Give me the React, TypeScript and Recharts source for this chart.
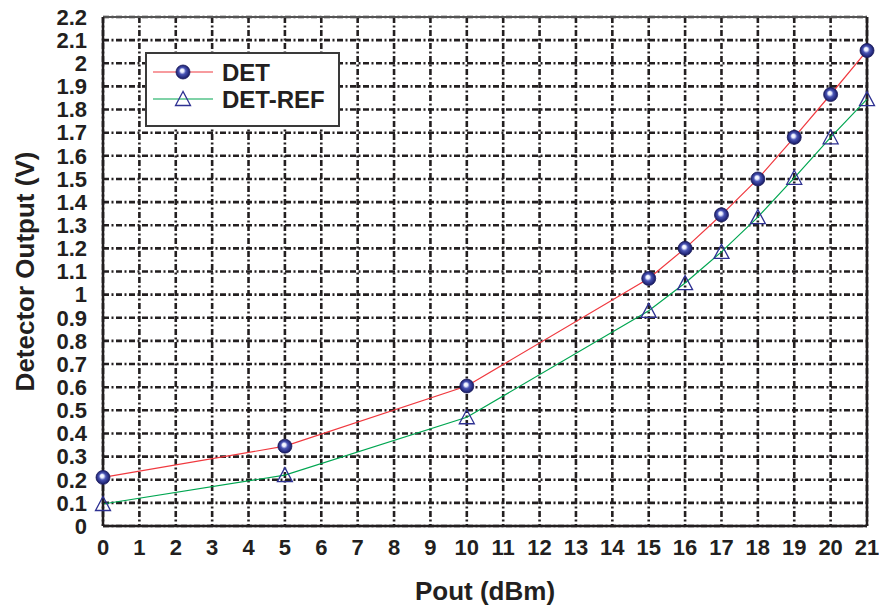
import React from 'react';
import { LineChart, Line, XAxis, YAxis, CartesianGrid, ReferenceLine, Legend } from 'recharts';

const pout = [0, 5, 10, 15, 16, 17, 18, 19, 20, 21];
const det = [0.21, 0.345, 0.605, 1.07, 1.2, 1.345, 1.5, 1.68, 1.865, 2.055];
const detRef = [0.095, 0.22, 0.47, 0.93, 1.05, 1.185, 1.335, 1.505, 1.68, 1.845];
const xTicks = [0, 1, 2, 3, 4, 5, 6, 7, 8, 9, 10, 11, 12, 13, 14, 15, 16, 17, 18, 19, 20, 21];
const yTicks = [0, 0.1, 0.2, 0.3, 0.4, 0.5, 0.6, 0.7, 0.8, 0.9, 1, 1.1, 1.2, 1.3, 1.4, 1.5, 1.6, 1.7, 1.8, 1.9, 2, 2.1, 2.2];
const seriesNames = ['DET', 'DET-REF'];

const data = pout.map((x, i) => ({ x, det: det[i], detRef: detRef[i] }));

const FONT = '"Liberation Sans", Arial, sans-serif';
const INK = '#231f20';
const RED = '#f0393f';
const GREEN = '#00a651';
const BLUE = '#2e3192';

const Sphere = ({ cx, cy }: any) => {
  if (cx == null || cy == null) return null;
  return <circle cx={cx} cy={cy} r={7} fill="url(#sphereGrad)" stroke="#1b1a5c" strokeWidth={0.8} />;
};

const Tri = ({ cx, cy }: any) => {
  if (cx == null || cy == null) return null;
  const pts = `${cx},${cy - 7.5} ${cx - 7.5},${cy + 6.5} ${cx + 7.5},${cy + 6.5}`;
  return <polygon points={pts} fill="none" stroke={BLUE} strokeWidth={1.3} />;
};

const LegendBox = () => (
  <div
    style={{
      width: 195,
      height: 75,
      boxSizing: 'border-box',
      border: `2.5px solid #3a3a3a`,
      background: '#fff',
    }}
  >
    <svg width={191} height={71} style={{ display: 'block' }}>
      <line x1={6} x2={66} y1={18} y2={18} stroke={RED} strokeWidth={1.2} />
      <Sphere cx={36} cy={18} />
      <text x={75} y={18} dominantBaseline="central" fontFamily={FONT} fontWeight="bold" fontSize={24} fill={INK}>
        {seriesNames[0]}
      </text>
      <line x1={6} x2={66} y1={45} y2={45} stroke={GREEN} strokeWidth={1.2} />
      <Tri cx={36} cy={45} />
      <text x={75} y={45} dominantBaseline="central" fontFamily={FONT} fontWeight="bold" fontSize={24} fill={INK}>
        {seriesNames[1]}
      </text>
    </svg>
  </div>
);

const fmt = (v: number) => String(+v.toFixed(1));

export default function App() {
  return (
    <div style={{ position: 'absolute', left: 0, top: 0, width: 879, height: 607, background: '#fff' }}>
      <svg width={0} height={0} style={{ position: 'absolute' }}>
        <defs>
          <radialGradient id="sphereGrad" cx="0.5" cy="0.5" r="0.55" fx="0.42" fy="0.38">
            <stop offset="0%" stopColor="#ffffff" />
            <stop offset="22%" stopColor="#e8ecff" />
            <stop offset="45%" stopColor="#4a55b5" />
            <stop offset="80%" stopColor="#23287a" />
            <stop offset="100%" stopColor="#141650" />
          </radialGradient>
        </defs>
      </svg>
      <LineChart
        width={879}
        height={607}
        data={data}
        margin={{ top: 17, right: 12, bottom: 0, left: 0 }}
      >
        <CartesianGrid
          stroke={INK}
          strokeWidth={2.6}
          strokeDasharray="6 2.5 2 2.5"
          horizontalValues={yTicks}
          verticalValues={xTicks}
        />
        <XAxis
          dataKey="x"
          type="number"
          domain={[0, 21]}
          ticks={xTicks}
          interval={0}
          height={81}
          tickLine={false}
          tickSize={0}
          tickMargin={13}
          axisLine={{ stroke: INK, strokeWidth: 2.5 }}
          tick={{ fontFamily: FONT, fontWeight: 'bold', fontSize: 22, fill: INK }}
          label={{
            value: 'Pout (dBm)',
            position: 'insideBottom',
            offset: 7,
            style: { fontFamily: FONT, fontWeight: 'bold', fontSize: 26, fill: INK },
          }}
        />
        <YAxis
          type="number"
          domain={[0, 2.2]}
          ticks={yTicks}
          interval={0}
          width={103}
          tickLine={false}
          tickSize={0}
          tickMargin={16}
          tickFormatter={fmt}
          axisLine={{ stroke: INK, strokeWidth: 2.5 }}
          tick={{ fontFamily: FONT, fontWeight: 'bold', fontSize: 22, fill: INK }}
          label={{
            content: (props: any) => {
              const vb = props.viewBox || {};
              const cx = (vb.x || 0) + 25;
              const cy = (vb.y || 0) + (vb.height || 0) / 2;
              return (
                <text
                  x={cx}
                  y={cy}
                  transform={`rotate(-90 ${cx} ${cy})`}
                  textAnchor="middle"
                  dominantBaseline="central"
                  fontFamily={FONT}
                  fontWeight="bold"
                  fontSize={26}
                  fill={INK}
                >
                  Detector Output (V)
                </text>
              );
            },
          }}
        />
        <ReferenceLine y={2.2} stroke="#555" strokeWidth={2} />
        <ReferenceLine x={21} stroke={INK} strokeWidth={2.5} />
        <Legend
          layout="horizontal"
          verticalAlign="middle"
          align="center"
          wrapperStyle={{ position: 'absolute', left: 145, top: 52, width: 195, height: 75 }}
          content={() => <LegendBox />}
        />
        <Line
          type="linear"
          dataKey="det"
          name={seriesNames[0]}
          stroke={RED}
          strokeWidth={1.2}
          dot={<Sphere />}
          activeDot={false}
          isAnimationActive={false}
        />
        <Line
          type="linear"
          dataKey="detRef"
          name={seriesNames[1]}
          stroke={GREEN}
          strokeWidth={1.2}
          dot={<Tri />}
          activeDot={false}
          isAnimationActive={false}
        />
      </LineChart>
    </div>
  );
}
